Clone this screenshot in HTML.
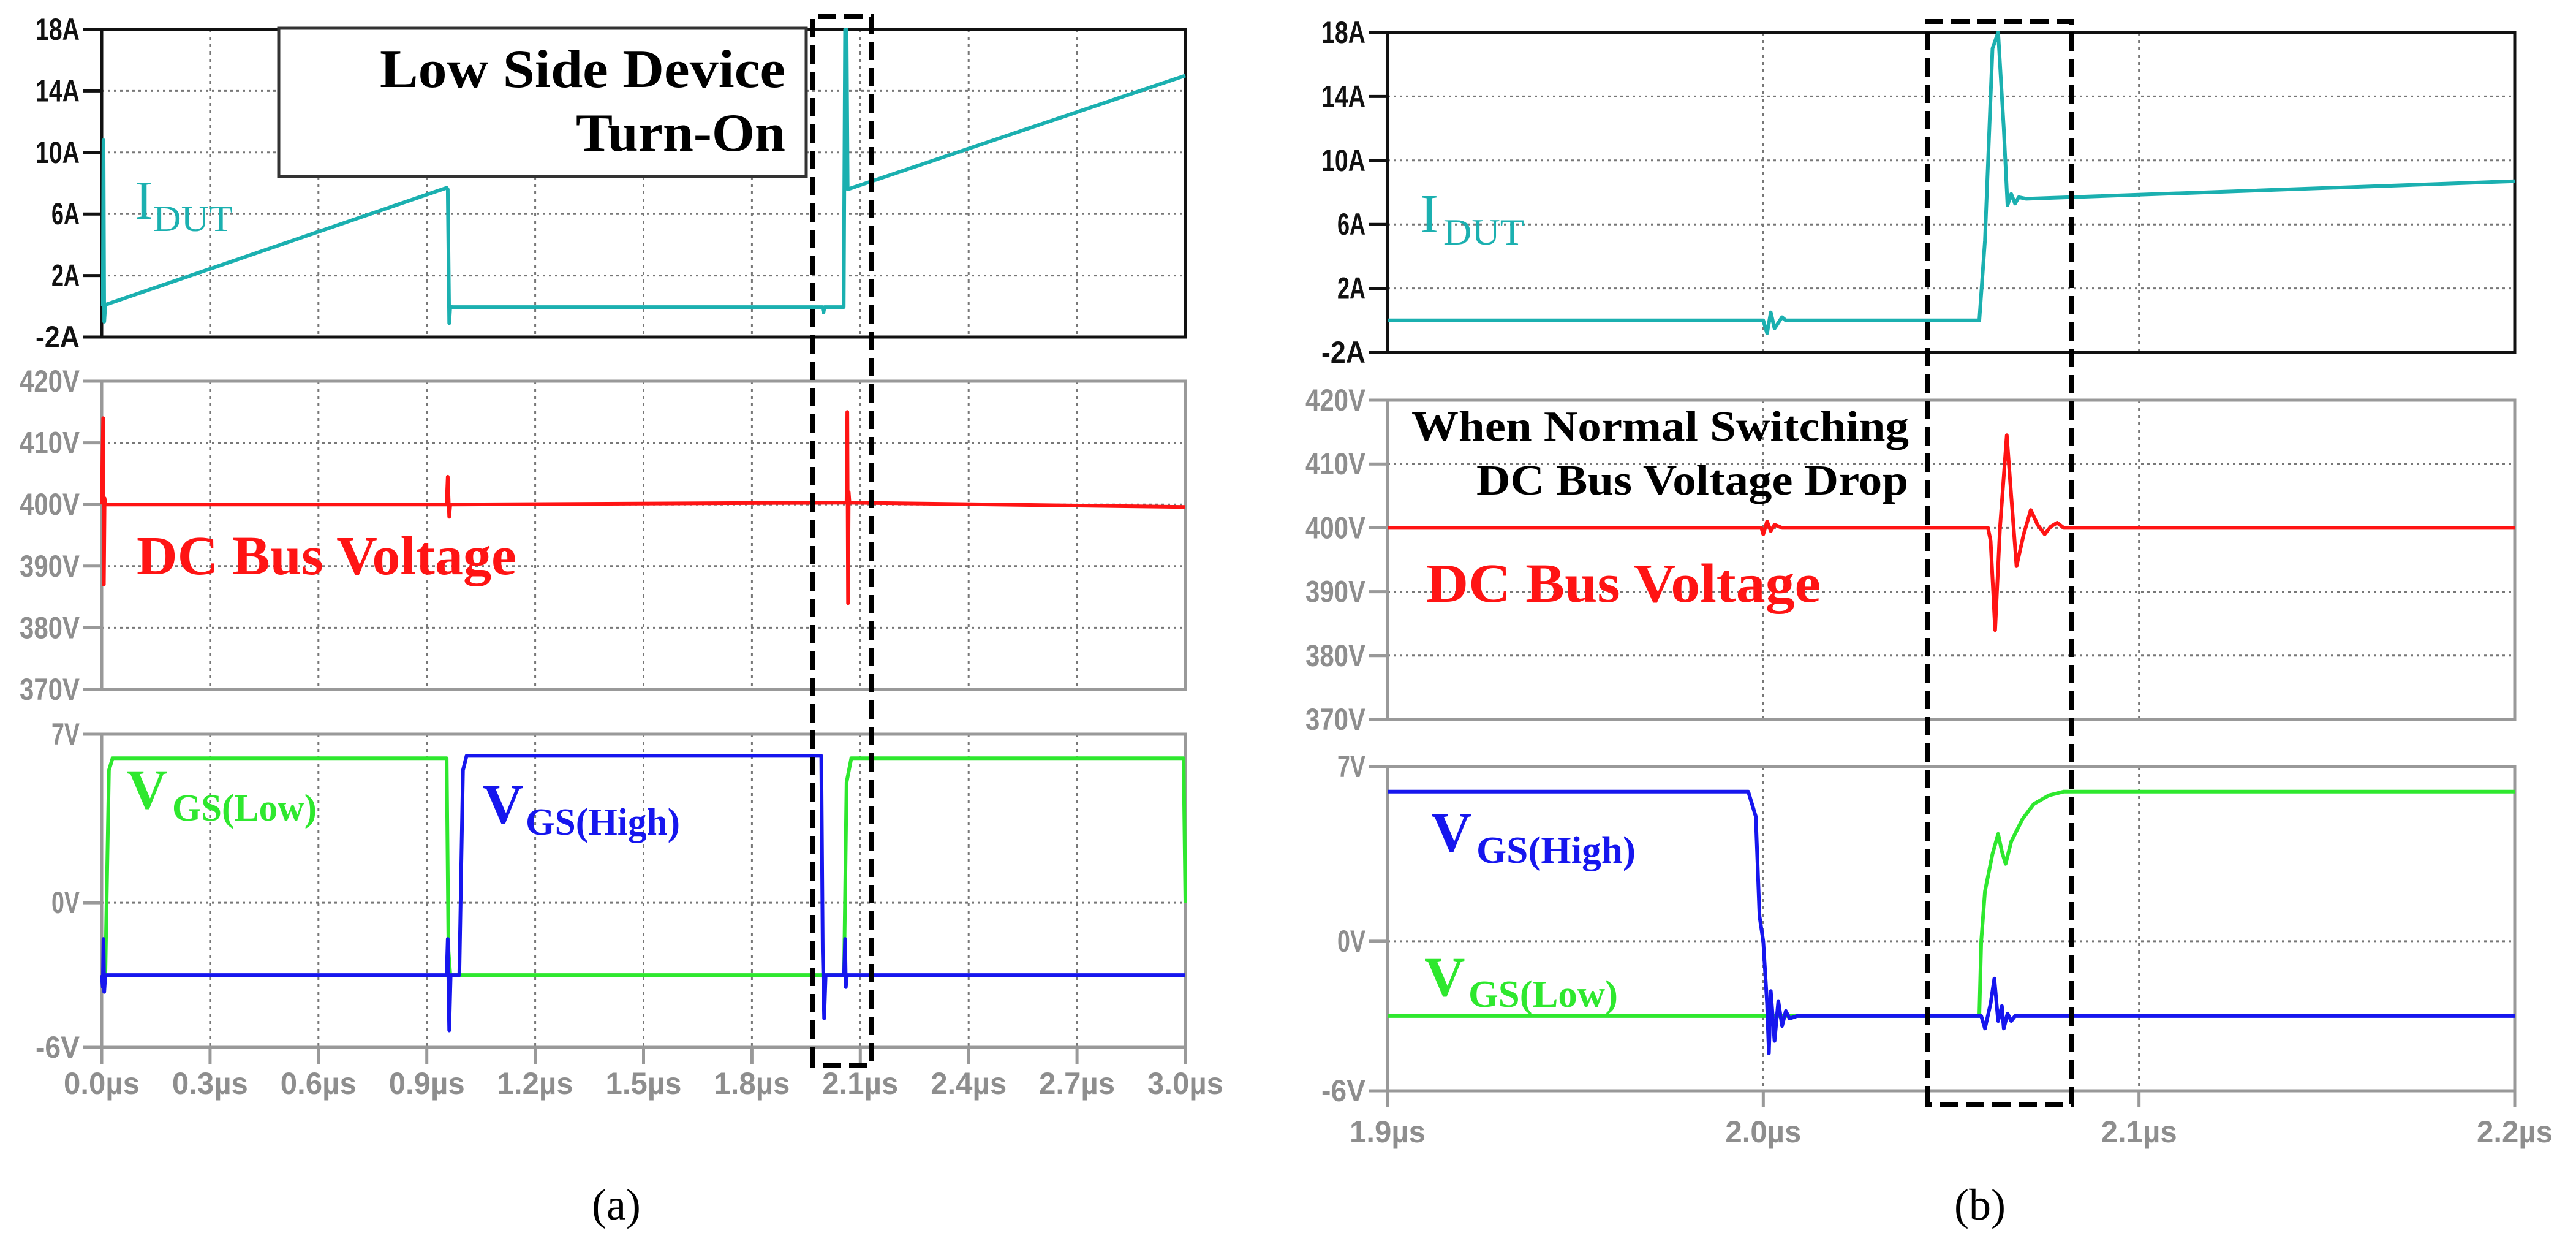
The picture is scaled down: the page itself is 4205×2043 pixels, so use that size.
<!DOCTYPE html>
<html><head><meta charset="utf-8"><style>
html,body{margin:0;padding:0;background:#fff;}
svg{display:block;}
</style></head><body>
<svg id="fig" xmlns="http://www.w3.org/2000/svg" width="4205" height="2043" viewBox="0 0 4205 2043">
<rect x="0" y="0" width="4205" height="2043" fill="#fff"/>
</svg>
<script>
// ---------- data: panel (a) ----------
const xTicksA = [0.0,0.3,0.6,0.9,1.2,1.5,1.8,2.1,2.4,2.7,3.0];
const xTickLabelsA = ["0.0µs","0.3µs","0.6µs","0.9µs","1.2µs","1.5µs","1.8µs","2.1µs","2.4µs","2.7µs","3.0µs"];
const xTicksB = [1.9,2.0,2.1,2.2];
const xTickLabelsB = ["1.9µs","2.0µs","2.1µs","2.2µs"];
const iTicks = [18,14,10,6,2,-2];
const iTickLabels = ["18A","14A","10A","6A","2A","-2A"];
const vbTicks = [420,410,400,390,380,370];
const vbTickLabels = ["420V","410V","400V","390V","380V","370V"];
const gTicks = [7,0,-6];
const gTickLabels = ["7V","0V","-6V"];

const idutA_t = [0,0.003,0.005,0.007,0.01,0.955,0.958,0.962,0.965,0.97,1.995,1.998,2.001,2.054,2.058,2.062,2.065,3.0];
const idutA_v = [0,0,10.8,-1,0.1,7.7,7.6,-1.1,0,-0.05,-0.05,-0.4,-0.05,-0.05,18,18,7.6,15];
const busA_t = [0,0.004,0.006,0.008,0.01,0.955,0.958,0.962,0.965,2.05,2.062,2.064,2.066,2.068,2.07,3.0];
const busA_v = [400,414,387,401,400,400,404.5,398,400,400.3,400.3,415,384,402,400.3,399.6];
const vglA_t = [0,0.01,0.02,0.03,0.955,0.96,0.965,2.055,2.062,2.075,2.995,3.0];
const vglA_v = [-3,-3,5.5,6,6,-2,-3,-3,5,6,6,0];
const vghA_t = [0,0.003,0.005,0.007,0.01,0.955,0.958,0.962,0.966,0.99,1.0,1.01,1.992,1.996,2.0,2.004,2.055,2.058,2.06,2.063,2.2,3.0];
const vghA_v = [-3,-3.5,-1.5,-3.7,-3,-3,-1.5,-5.3,-3,-3,5.5,6.1,6.1,-2,-4.8,-3,-3,-1.5,-3.5,-3,-3,-3];

// ---------- data: panel (b) ----------
const idutB_t = [1.9,1.999,2.0,2.001,2.002,2.003,2.005,2.006,2.0575,2.059,2.061,2.0625,2.064,2.065,2.066,2.067,2.068,2.07,2.2];
const idutB_v = [0,0,0,-0.8,0.5,-0.5,0.2,0,0,5,17,18,12,7.2,7.9,7.3,7.7,7.6,8.7];
const busB_t = [1.9,1.9995,2.0,2.001,2.002,2.003,2.005,2.0598,2.0605,2.0617,2.063,2.0648,2.066,2.0674,2.0693,2.0712,2.073,2.0749,2.0765,2.0782,2.08,2.2];
const busB_v = [400,400,399,401,399.5,400.5,400,400,398,384,400,414.5,405,394,399,402.8,400.5,399,400.2,400.8,400,400];
const vghB_t = [1.9,1.996,1.998,1.999,2.0,2.001,2.0015,2.002,2.003,2.004,2.005,2.006,2.007,2.009,2.058,2.059,2.0605,2.0615,2.0625,2.0635,2.064,2.065,2.066,2.067,2.2];
const vghB_v = [6,6,5,1,0,-2.5,-4.5,-2,-4,-2.4,-3.4,-2.8,-3.1,-3,-3,-3.5,-2.5,-1.5,-3.2,-2.6,-3.5,-2.9,-3.2,-3,-3];
const vglB_t = [1.9,2.0575,2.058,2.059,2.061,2.0625,2.0635,2.0645,2.066,2.069,2.072,2.076,2.08,2.2];
const vglB_v = [-3,-3,0,2,3.5,4.3,3.6,3.1,4,4.9,5.5,5.85,6,6];

const NS = "http://www.w3.org/2000/svg";
const svg = document.getElementById('fig');
function el(tag, attrs, parent){
  const e = document.createElementNS(NS, tag);
  for (const k in attrs) e.setAttribute(k, attrs[k]);
  (parent||svg).appendChild(e);
  return e;
}
function lin(d0,d1,p0,p1){ return v => p0 + (v-d0)*(p1-p0)/(d1-d0); }

const GRAY = "#8e8e8e";
function panel(name, xs, yMin, yMax, top, bot, yTicks, yLabels, frameColor, labelColor, showX){
  const y = lin(yMin, yMax, bot, top);
  const g = el('g', {});
  
  
  xs.ticks.forEach(t => {
    const ln = el('line', {x1:xs.x(t), x2:xs.x(t), y1:top, y2:bot, stroke:"#777", 'stroke-width':3, 'stroke-dasharray':"5 7"}, g);
    
    
  });
  yTicks.forEach((v,i) => {
    const yy = y(v);
    if (v!==yMin && v!==yMax){
      const ln = el('line', {x1:xs.p0, x2:xs.p1, y1:yy, y2:yy, stroke:"#777", 'stroke-width':3, 'stroke-dasharray':"4 6"}, g);
      
      
    }
    el('line', {x1:xs.p0-30, x2:xs.p0, y1:yy, y2:yy, stroke:frameColor, 'stroke-width':5}, g);
    const lab = yLabels[i];
    const tx = el('text', {x:xs.p0-36, y:yy+17, 'text-anchor':'end', 'font-family':'Liberation Sans, sans-serif', 'font-weight':'bold', 'font-size':50, fill:labelColor, textLength: lab.length*26 - 6, lengthAdjust:'spacingAndGlyphs'}, g);
    tx.textContent = lab;
    
    
  });
  const fr = el('rect', {x:xs.p0, y:top, width:xs.p1-xs.p0, height:bot-top, fill:'none', stroke:frameColor, 'stroke-width':5}, g);
  
  
  if (showX){
    xs.ticks.forEach((t,i) => {
      el('line', {x1:xs.x(t), x2:xs.x(t), y1:bot, y2:bot+27, stroke:frameColor, 'stroke-width':5}, g);
      const lab = xs.labels[i];
      const tx = el('text', {x:xs.x(t), y:bot+xs.labOff, 'text-anchor':'middle', 'font-family':'Liberation Sans, sans-serif', 'font-weight':'bold', 'font-size':50, fill:labelColor, textLength:124, lengthAdjust:'spacingAndGlyphs'}, g);
      tx.textContent = lab;
      
      
    });
  }
  return y;
}
function trace(name, xs, y, ts, vs, color, w){
  const pts = ts.map((t,i) => xs.x(t).toFixed(1)+','+y(vs[i]).toFixed(1)).join(' ');
  const p = el('polyline', {points:pts, fill:'none', stroke:color, 'stroke-width':w||5, 'stroke-linejoin':'round'});
  
  
}
function label(name, txt, x, yb, size, color, weight, len){
  const t = el('text', {x:x, y:yb, 'font-family':'Liberation Serif, serif', 'font-size':size, fill:color, 'font-weight':weight||'normal'});
  if (len){ t.setAttribute('textLength', len); t.setAttribute('lengthAdjust','spacingAndGlyphs'); }
  t.textContent = txt;
  
  
  return t;
}

const TEAL="#1bb0b0", RED="#ff1414", GREEN="#2ee82e", BLUE="#1616ee";

// ----- panel (a) -----
const xsA = {p0:166, p1:1935, ticks:xTicksA, labels:xTickLabelsA, labOff:76};
xsA.x = lin(0,3,166,1935);
const yIA = panel('current-panel-a', xsA, -2, 18, 48, 550, iTicks, iTickLabels, '#111', '#111', false);
const yVA = panel('bus-voltage-panel-a', xsA, 370, 420, 622, 1125, vbTicks, vbTickLabels, '#999', GRAY, false);
const yGA = panel('gate-voltage-panel-a', xsA, -6, 7, 1198, 1709, gTicks, gTickLabels, '#999', GRAY, true);

const box = el('rect', {x:455, y:46, width:861, height:242, fill:'#fff', stroke:'#333', 'stroke-width':5});


label('annotation-line1', 'Low Side Device', 620, 142, 88, '#000', 'bold', 662);
label('annotation-line2', 'Turn-On', 940, 246, 88, '#000', 'bold', 342);

trace('idut-trace-a', xsA, yIA, idutA_t, idutA_v, TEAL, 6);
trace('bus-voltage-trace-a', xsA, yVA, busA_t, busA_v, RED, 6);
trace('vgs-low-trace-a', xsA, yGA, vglA_t, vglA_v, GREEN, 6);
trace('vgs-high-trace-a', xsA, yGA, vghA_t, vghA_v, BLUE, 6);

label('idut-label-a', 'I', 220, 357, 90, TEAL, 'normal');
label('idut-sub-a', 'DUT', 250, 377, 60, TEAL, 'normal', 130);
label('bus-label-a', 'DC Bus Voltage', 223, 937, 90, RED, 'bold', 620);
label('vgs-low-label-a', 'V', 207, 1319, 92, GREEN, 'bold');
label('vgs-low-sub-a', 'GS(Low)', 281, 1339, 62, GREEN, 'bold', 236);
label('vgs-high-label-a', 'V', 788, 1343, 92, BLUE, 'bold');
label('vgs-high-sub-a', 'GS(High)', 858, 1362, 62, BLUE, 'bold', 252);

const dbA = el('path', {d:'M1326,1738 L1326,27 L1423,27 L1423,1738 Z', fill:'none', stroke:'#000', 'stroke-width':8, 'stroke-dasharray':'30 13'});


label('caption-a', '(a)', 966, 1990, 72, '#000', 'normal');

// ----- panel (b) -----
const xsB = {p0:2265, p1:4105, ticks:xTicksB, labels:xTickLabelsB, labOff:84};
xsB.x = lin(1.9,2.2,2265,4105);
const yIB = panel('current-panel-b', xsB, -2, 18, 53, 575, iTicks, iTickLabels, '#111', '#111', false);
const yVB = panel('bus-voltage-panel-b', xsB, 370, 420, 653, 1174, vbTicks, vbTickLabels, '#999', GRAY, false);
const yGB = panel('gate-voltage-panel-b', xsB, -6, 7, 1251, 1780, gTicks, gTickLabels, '#999', GRAY, true);

trace('idut-trace-b', xsB, yIB, idutB_t, idutB_v, TEAL, 6);
trace('bus-voltage-trace-b', xsB, yVB, busB_t, busB_v, RED, 6);
trace('vgs-low-trace-b', xsB, yGB, vglB_t, vglB_v, GREEN, 6);
trace('vgs-high-trace-b', xsB, yGB, vghB_t, vghB_v, BLUE, 6);

label('idut-label-b', 'I', 2318, 379, 90, TEAL, 'normal');
label('idut-sub-b', 'DUT', 2356, 399, 60, TEAL, 'normal', 132);
label('annotation-b-line1', 'When Normal Switching', 2304, 719, 70, '#000', 'bold', 812);
label('annotation-b-line2', 'DC Bus Voltage Drop', 2410, 807, 70, '#000', 'bold', 705);
label('bus-label-b', 'DC Bus Voltage', 2328, 982, 90, RED, 'bold', 644);
label('vgs-high-label-b', 'V', 2336, 1389, 92, BLUE, 'bold');
label('vgs-high-sub-b', 'GS(High)', 2410, 1408, 62, BLUE, 'bold', 260);
label('vgs-low-label-b', 'V', 2325, 1625, 92, GREEN, 'bold');
label('vgs-low-sub-b', 'GS(Low)', 2397, 1643, 62, GREEN, 'bold', 244);

const dbB = el('path', {d:'M3146,1802 L3146,35 L3382,35 L3382,1802 Z', fill:'none', stroke:'#000', 'stroke-width':8, 'stroke-dasharray':'30 13'});


label('caption-b', '(b)', 3190, 1990, 72, '#000', 'normal');
</script>
</body></html>
